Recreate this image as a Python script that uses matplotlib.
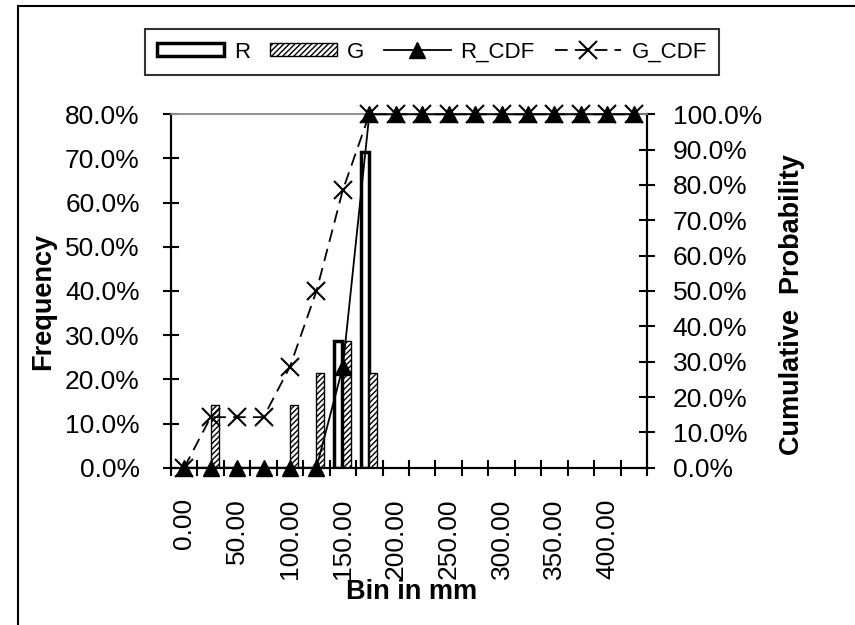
import matplotlib
matplotlib.use("Agg")
from matplotlib import pyplot as plt
from matplotlib.lines import Line2D
from matplotlib.patches import Patch
from matplotlib.ticker import PercentFormatter
import numpy as np

plt.rcParams['font.family'] = ['Liberation Sans', 'DejaVu Sans']
plt.rcParams['hatch.linewidth'] = 1.0

bins = [0, 25, 50, 75, 100, 125, 150, 175, 200, 225, 250, 275, 300, 325, 350, 375, 400, 425]
r_freq = [0, 0, 0, 0, 0, 0, 28.6, 71.4, 0, 0, 0, 0, 0, 0, 0, 0, 0, 0]
g_freq = [0, 14.3, 0, 0, 14.3, 21.4, 28.6, 21.4, 0, 0, 0, 0, 0, 0, 0, 0, 0, 0]
r_cdf = [0, 0, 0, 0, 0, 0, 28.6, 100, 100, 100, 100, 100, 100, 100, 100, 100, 100, 100]
g_cdf = [0, 14.3, 14.3, 14.3, 28.6, 50.0, 78.6, 100, 100, 100, 100, 100, 100, 100, 100, 100, 100, 100]

W, H = 855, 625
fig = plt.figure(figsize=(W / 100, H / 100), dpi=100)
ax = fig.add_axes([171 / W, 1 - 467.7 / H, (647 - 171) / W, (467.7 - 114.3) / H])
ax2 = ax.twinx()

x = np.arange(len(bins))
bw = 0.3
b1 = ax.bar(x - 0.17, r_freq, bw, facecolor='white', edgecolor='black', linewidth=2.5, zorder=2)
b2 = ax.bar(x + 0.15, g_freq, bw, facecolor='white', edgecolor='black', linewidth=1.0,
            hatch='//////', zorder=2)
# empty bins: Excel draws nothing there
for p in list(b1.patches) + list(b2.patches):
    if p.get_height() == 0:
        p.set_visible(False)

l1, = ax2.plot(x, r_cdf, color='black', lw=1.3, marker='^', ms=11, zorder=3, clip_on=False)
l2, = ax2.plot(x, g_cdf, color='black', lw=1.3, ls=(0, (7, 4)), marker='x', ms=13, mew=1.5,
               zorder=3, clip_on=False)

ax.set_xlim(-0.5, len(bins) - 0.5)
ax.set_ylim(0, 80)
ax2.set_ylim(0, 100)
ax.set_zorder(ax2.get_zorder() - 1)
ax.patch.set_visible(False)
ax2.patch.set_visible(False)

ax.set_yticks(np.arange(0, 81, 10))
ax2.set_yticks(np.arange(0, 101, 10))
ax.yaxis.set_major_formatter(PercentFormatter(decimals=1))
ax2.yaxis.set_major_formatter(PercentFormatter(decimals=1))

ax.set_xticks(x[::2])
ax.set_xticklabels([f"{b:.2f}" for b in bins[::2]], rotation=90, va='top')
ax.set_xticks(np.arange(-0.5, len(bins), 1), minor=True)
ax.tick_params(axis='x', which='major', length=0, pad=22, labelsize=19)
ax.tick_params(axis='x', which='minor', direction='inout', length=11, width=1.5)
ax.tick_params(axis='y', direction='inout', length=11, width=1.5, pad=17, labelsize=19)
ax2.tick_params(axis='y', direction='inout', length=11, width=1.5, pad=13, labelsize=19)

for a in (ax, ax2):
    a.spines['top'].set_color('#909090')
    a.spines['top'].set_linewidth(1.2)
    for s in ('left', 'right', 'bottom'):
        a.spines[s].set_linewidth(1.5)

fig.text(43 / W, 1 - 301 / H, 'Frequency', rotation=90, ha='center', va='center',
         fontsize=19.5, fontweight='bold')
fig.text(792 / W, 1 - 305 / H, 'Cumulative  Probability', rotation=90, ha='center', va='center',
         fontsize=19.5, fontweight='bold')
fig.text(412 / W, 1 - 592 / H, 'Bin in mm', ha='center', va='center',
         fontsize=19.5, fontweight='bold')

h_r = Patch(facecolor='white', edgecolor='black', linewidth=2.5)
h_g = Patch(facecolor='white', edgecolor='black', linewidth=1.0, hatch='//////')
leg = fig.legend([h_r, h_g, l1, l2], ['R', 'G', 'R_CDF', 'G_CDF'], ncol=4, loc='center',
                 bbox_to_anchor=(432 / W, 1 - 52 / H), fontsize=16, frameon=True, fancybox=False,
                 handlelength=3.0, handleheight=0.55, handletextpad=0.45, columnspacing=0.9,
                 borderpad=0.55, borderaxespad=0)
leg.get_frame().set_edgecolor('black')
leg.get_frame().set_linewidth(1.5)

fig.add_artist(Line2D([18 / W, 18 / W], [0, 1 - 6 / H], color='black', lw=1.5))
fig.add_artist(Line2D([18 / W, 1], [1 - 6 / H, 1 - 6 / H], color='black', lw=1.5))

fig.savefig('out.png', dpi=100)
